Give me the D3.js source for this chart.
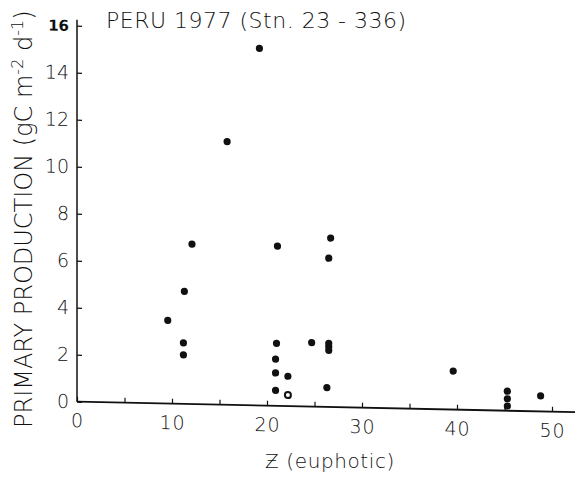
<!DOCTYPE html>
<html><head><meta charset="utf-8">
<script src="https://cdn.jsdelivr.net/npm/d3@7"></script>
<style>
body{margin:0;background:#fff;}
text{font-family:"DejaVu Sans",sans-serif;fill:#111;}
</style></head>
<body><svg id="c" width="579" height="484"></svg>
<script>
// Data: euphotic depth (m) vs primary production (gC m-2 d-1)
const zEuphotic = [9.55,12.1,11.3,11.2,11.2,21.1,21.0,20.9,20.9,22.2,20.9,22.2,26.7,26.5,24.7,26.5,26.5,26.5,26.3,39.6,45.3,45.3,45.3,48.8,19.2,15.8];
const production = [3.54,6.81,4.79,2.60,2.09,6.80,2.66,1.99,1.40,1.27,0.66,0.47,7.19,6.33,2.72,2.71,2.57,2.41,0.82,1.64,0.83,0.51,0.20,0.66,15.2,11.2];
const hollow = [false,false,false,false,false,false,false,false,false,false,false,true,false,false,false,false,false,false,false,false,false,false,false,false,false,false];
const xTicks = [0,5,10,15,20,25,30,35,40,45,50];
const xTickLabels = ["0","","10","","20","","30","","40","","50"];
const yTicks = [0,2,4,6,8,10,12,14,16];
const titleText = "PERU 1977 (Stn. 23 - 336)";
const xTitle = "Ƶ (euphotic)";

const svg = d3.select("#c");
const x = d3.scaleLinear().domain([0,50]).range([0,475]);
const y = d3.scaleLinear().domain([0,16]).range([0,-376]);

// slight scan skew of the original figure
const g = svg.append("g").attr("transform","translate(77,401.7) skewY(1.2)");

// axes lines
g.append("line").attr("x1",0).attr("x2",498).attr("y1",0).attr("y2",0).attr("stroke","#111").attr("stroke-width",1.8);
g.append("line").attr("x1",0).attr("x2",0).attr("y1",0).attr("y2",-382).attr("stroke","#111").attr("stroke-width",1.5);

const xa = d3.axisBottom(x).tickValues(xTicks).tickSize(-5).tickPadding(0)
  .tickFormat((d,i)=>xTickLabels[i]);
const xg = g.append("g").call(xa);
xg.select(".domain").remove();
xg.selectAll(".tick line").attr("stroke","#111").attr("stroke-width",1.2);
xg.selectAll(".tick text").attr("y",12).attr("dy","0.71em").style("font-size","19px").style("font-weight","300").attr("fill","#111").style("letter-spacing","1px");

const ya = d3.axisLeft(y).tickValues(yTicks).tickSize(-5).tickPadding(8).tickFormat(d=>d);
const yg = g.append("g").call(ya);
yg.select(".domain").remove();
yg.selectAll(".tick line").attr("stroke","#111").attr("stroke-width",1.2);
yg.selectAll(".tick text").attr("fill","#111")
  .style("font-weight",d=>d===16?"bold":"300").style("font-size",d=>d===16?"15px":"19px");

// points
const pts = zEuphotic.map((z,i)=>({z, p:production[i], h:hollow[i]}));
g.selectAll("circle.pt").data(pts).join("circle").attr("class","pt")
  .attr("cx",d=>x(d.z)).attr("cy",d=>y(d.p))
  .attr("r",d=>d.h?3:3.6)
  .attr("fill",d=>d.h?"#fff":"#111").attr("stroke","#111").attr("stroke-width",d=>d.h?2:0);

// title
svg.append("text").attr("x",106).attr("y",28).style("font-size","22px").style("font-weight","300").style("letter-spacing","0.5px").text(titleText);

// y title
const yt = svg.append("text").attr("transform","translate(32,428) rotate(-90)").style("font-size","24px").style("font-weight","300");
yt.append("tspan").text("PRIMARY PRODUCTION (gC m");
yt.append("tspan").attr("dy",-9).style("font-size","16px").text("-2");
yt.append("tspan").attr("dy",9).text(" d");
yt.append("tspan").attr("dy",-9).style("font-size","16px").text("-1");
yt.append("tspan").attr("dy",9).text(")");

// x title
svg.append("text").attr("x",330).attr("y",468).attr("text-anchor","middle").style("font-size","20px").style("font-weight","300").style("letter-spacing","0.6px").text(xTitle);
</script></body></html>
